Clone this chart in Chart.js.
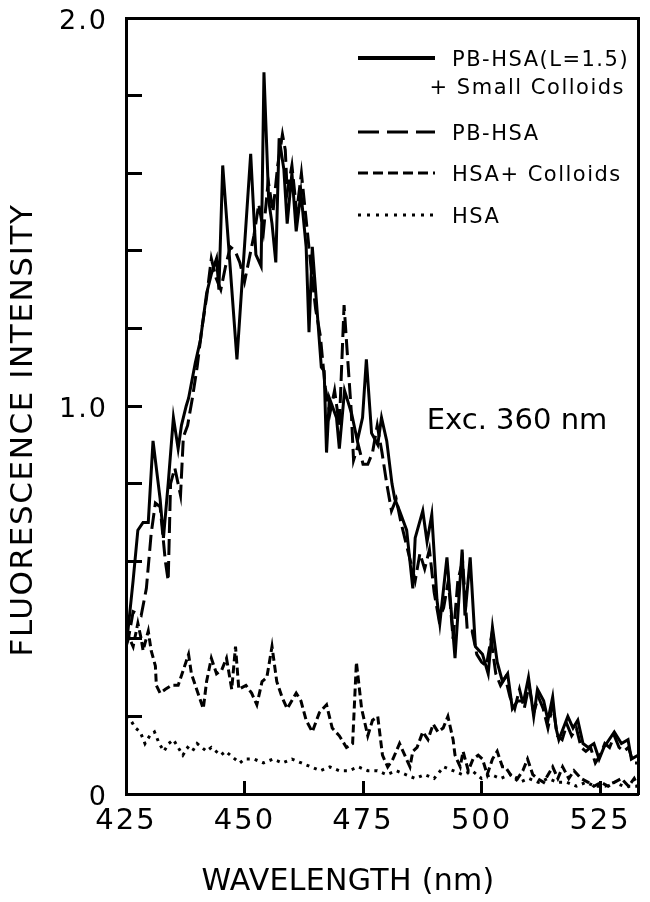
<!DOCTYPE html>
<html><head><meta charset="utf-8">
<script src="https://cdn.jsdelivr.net/npm/chart.js@4.4.1/dist/chart.umd.min.js"></script>
<style>html,body{margin:0;padding:0;background:#fff;}canvas{display:block;}</style>
</head><body>
<canvas id="c" width="650" height="902"></canvas>
<script>
// ---------- data ----------
const wlSolid = [425.0,425.4,426.5,427.5,428.6,429.7,430.7,432.2,432.9,433.9,435.0,436.0,436.7,437.7,438.2,439.6,440.7,442.0,443.0,444.1,444.6,445.4,448.4,451.3,452.4,453.5,454.1,455.1,455.8,456.6,457.3,458.3,459.0,460.0,460.9,461.9,463.0,463.6,464.3,465.1,466.2,466.8,467.3,467.9,469.4,470.0,471.1,472.6,473.8,474.9,475.7,476.8,478.1,478.9,480.0,481.1,481.7,482.7,484.2,485.5,486.0,487.6,488.5,489.5,490.6,491.2,492.7,494.4,495.9,496.5,497.6,498.7,500.2,501.4,502.3,503.3,504.4,505.5,506.5,507.6,508.9,509.9,511.0,511.8,513.1,514.0,515.0,515.7,516.3,518.2,519.3,520.3,521.4,522.5,523.7,524.8,525.8,528.0,529.5,530.9,531.6,533.0];
const valSolid = [0.40,0.42,0.55,0.68,0.70,0.70,0.91,0.76,0.66,0.80,0.97,0.89,0.95,1.00,1.02,1.11,1.17,1.29,1.34,1.38,1.30,1.62,1.12,1.65,1.39,1.36,1.86,1.53,1.47,1.37,1.69,1.61,1.47,1.60,1.45,1.55,1.41,1.19,1.41,1.28,1.10,1.09,0.88,1.02,0.97,0.89,1.04,0.98,0.91,0.97,1.12,0.93,0.90,0.97,0.91,0.80,0.76,0.73,0.68,0.53,0.66,0.73,0.65,0.72,0.50,0.44,0.61,0.35,0.63,0.46,0.61,0.38,0.36,0.31,0.43,0.34,0.29,0.31,0.22,0.24,0.24,0.30,0.20,0.27,0.24,0.19,0.25,0.17,0.14,0.20,0.17,0.19,0.13,0.12,0.13,0.09,0.12,0.16,0.13,0.14,0.09,0.10];

const wlPBHSA = [425,425.5,426.5,428.2,429.3,430.3,431.2,432.2,433.3,433.9,434.4,435.3,436.5,437.1,438,439,440,441,442,443,444,445,446,447,448,449,450,451,452,453,454,455,456,457,458,458.6,459,460,461,462,463,464,465,466,467,468,469,470,471,471.6,472.5,473,474,475,476,477,478,479,480,481,482,483,484,485,486,487,488,489,490,491,492,493,494,495,496,497,498,499,500,501,502,503,504,505,506,507,508,509,510,511,512,513,514,515,516,517,518,519,520,521,522,523,524,525,526,527,528,529,530,531,532,533];
const valPBHSA = [0.38,0.40,0.47,0.46,0.53,0.67,0.75,0.74,0.60,0.55,0.80,0.84,0.77,0.92,0.95,1.02,1.10,1.20,1.28,1.38,1.33,1.30,1.36,1.41,1.40,1.37,1.32,1.38,1.44,1.52,1.45,1.58,1.50,1.62,1.70,1.66,1.55,1.62,1.50,1.60,1.48,1.36,1.25,1.18,1.05,0.98,1.04,0.95,1.26,1.15,0.99,0.86,0.90,0.85,0.85,0.88,0.95,0.88,0.80,0.73,0.76,0.70,0.65,0.60,0.55,0.62,0.58,0.63,0.52,0.45,0.48,0.55,0.40,0.55,0.60,0.42,0.42,0.36,0.34,0.33,0.40,0.31,0.28,0.30,0.25,0.22,0.27,0.22,0.28,0.21,0.25,0.22,0.17,0.23,0.15,0.14,0.18,0.15,0.17,0.12,0.11,0.12,0.08,0.10,0.13,0.12,0.15,0.12,0.11,0.12,0.08,0.08];

const wlHSAColl = [425.0,425.4,426.5,427.5,428.2,428.6,429.7,430.3,431.2,431.4,432.2,433.3,434.6,436.0,437.1,438.2,438.8,439.9,441.3,442.0,443.0,444.1,445.2,446.2,447.3,448.1,448.8,450.3,451.5,452.6,453.7,454.7,455.8,456.8,457.9,459.0,460.9,461.9,463.0,464.3,465.8,467.3,468.5,470.0,471.5,472.8,473.6,474.7,476.0,477.0,478.1,479.1,480.2,481.3,482.7,483.8,484.9,485.5,486.4,487.6,488.7,489.8,490.8,491.9,492.9,494.0,494.4,495.5,496.1,497.2,498.2,499.3,500.2,501.2,502.3,503.3,504.4,505.0,506.1,507.6,508.7,509.7,510.8,511.8,513.1,515.0,516.1,517.1,518.4,519.5,521.0,522.5,523.7,525.2,526.7,528.0,529.5,531.0,532.2,533.0];
const valHSAColl = [0.42,0.41,0.38,0.44,0.40,0.37,0.42,0.37,0.33,0.28,0.26,0.27,0.28,0.28,0.32,0.36,0.31,0.27,0.22,0.29,0.35,0.31,0.32,0.35,0.27,0.38,0.27,0.28,0.26,0.23,0.29,0.30,0.38,0.29,0.25,0.22,0.26,0.24,0.19,0.16,0.21,0.23,0.17,0.15,0.12,0.13,0.34,0.22,0.15,0.19,0.20,0.10,0.07,0.09,0.13,0.10,0.07,0.11,0.12,0.16,0.14,0.18,0.16,0.17,0.20,0.14,0.10,0.07,0.11,0.06,0.09,0.10,0.09,0.05,0.09,0.11,0.07,0.07,0.05,0.04,0.06,0.09,0.05,0.04,0.03,0.07,0.04,0.07,0.04,0.06,0.04,0.03,0.02,0.03,0.02,0.03,0.04,0.02,0.04,0.02];

const wlHSA = [425,426,427,428,429,430,431,432,433,434,435,436,437,438,439,440,441,442,443,444,445,446,447,448,449,450,452,454,456,458,460,462,464,466,468,470,472,474,476,478,480,482,484,486,488,490,492,494,496,498,500,502,504,506,508,510,512,514,516,518,520,522,524,526,528,530,532,533];
const valHSA = [0.20,0.19,0.17,0.16,0.13,0.15,0.16,0.13,0.11,0.13,0.14,0.12,0.10,0.12,0.11,0.13,0.12,0.11,0.12,0.11,0.10,0.11,0.10,0.09,0.08,0.09,0.09,0.08,0.09,0.08,0.09,0.08,0.07,0.06,0.07,0.06,0.06,0.07,0.06,0.06,0.05,0.06,0.05,0.04,0.05,0.04,0.07,0.06,0.05,0.06,0.04,0.05,0.04,0.05,0.03,0.04,0.03,0.04,0.03,0.03,0.02,0.03,0.02,0.02,0.03,0.02,0.02,0.02];

const seriesLabels = ['PB-HSA(L=1.5) + Small Colloids', 'PB-HSA', 'HSA+ Colloids', 'HSA'];
const legendLines = [['PB-HSA(L=1.5)', '+ Small Colloids'], ['PB-HSA'], ['HSA+ Colloids'], ['HSA']];
const xTickValues = [425, 450, 475, 500, 525];
const yTickValues = [0, 0.2, 0.4, 0.6, 0.8, 1.0, 1.2, 1.4, 1.6, 1.8, 2.0];
const yTickLabels = ['0', '1.0', '2.0'];
const yLabelledValues = [0, 1, 2];
const xTitle = 'WAVELENGTH (nm)';
const yTitle = 'FLUORESCENCE INTENSITY';
const noteText = 'Exc. 360 nm';

// ---------- rendering ----------
const FONT = "'DejaVu Sans', sans-serif";
const pts = (xs, ys) => xs.map((x, i) => ({x: x, y: ys[i]}));
const noPad = s => { s.paddingTop = 0; s.paddingBottom = 0; s.paddingLeft = 0; s.paddingRight = 0; };

const textPlugin = {
  id: 'textPlugin',
  beforeDraw(chart) { chart.ctx.letterSpacing = '2px'; },
  afterDraw(chart) {
    const ctx = chart.ctx, a = chart.chartArea;
    ctx.save();
    ctx.fillStyle = '#000';
    ctx.strokeStyle = '#000';
    ctx.textAlign = 'center';
    ctx.textBaseline = 'middle';
    ctx.letterSpacing = '0.3px';
    ctx.font = '30px ' + FONT;
    ctx.fillText(xTitle, 348, 882);
    ctx.save();
    ctx.translate(24, 430);
    ctx.rotate(-Math.PI / 2);
    ctx.letterSpacing = '1.6px';
    ctx.font = '31px ' + FONT;
    ctx.fillText(yTitle, 0, 0);
    ctx.restore();
    ctx.letterSpacing = '0px';
    ctx.font = '29px ' + FONT;
    ctx.fillText(noteText, a.right - 121, 421);
    const rows = [a.top + 40, a.top + 114, a.top + 155, a.top + 197];
    const sx1 = a.right - 280, sx2 = a.right - 203, tx = a.right - 186;
    ctx.font = '21px ' + FONT;
    ctx.letterSpacing = '1.5px';
    chart.data.datasets.forEach((ds, i) => {
      const y = rows[i];
      ctx.save();
      ctx.lineWidth = i === 0 ? 4 : 3;
      ctx.setLineDash(ds.legendDash || []);
      ctx.lineCap = 'butt';
      ctx.beginPath();
      ctx.moveTo(sx1, y);
      ctx.lineTo(sx2, y);
      ctx.stroke();
      ctx.restore();
      const lines = legendLines[i];
      ctx.textAlign = 'left';
      ctx.fillText(lines[0], tx, y + 3);
      if (lines.length > 1) {
        ctx.textAlign = 'right';
        ctx.fillText(lines[1], a.right - 13, y + 31);
      }
    });
    ctx.restore();
  }
};

new Chart(document.getElementById('c'), {
  type: 'line',
  data: {
    datasets: [
      { label: seriesLabels[0], data: pts(wlSolid, valSolid), borderColor: '#000', borderWidth: 3, borderDash: [], legendDash: [] },
      { label: seriesLabels[1], data: pts(wlPBHSA, valPBHSA), borderColor: '#000', borderWidth: 3, borderDash: [16, 6], legendDash: [21, 8] },
      { label: seriesLabels[2], data: pts(wlHSAColl, valHSAColl), borderColor: '#000', borderWidth: 3, borderDash: [8, 4], legendDash: [10, 5] },
      { label: seriesLabels[3], data: pts(wlHSA, valHSA), borderColor: '#000', borderWidth: 3, borderDash: [3, 5], legendDash: [3, 6] }
    ]
  },
  options: {
    responsive: false,
    devicePixelRatio: 1,
    animation: false,
    events: [],
    layout: { padding: 0 },
    elements: { point: { radius: 0 }, line: { tension: 0, fill: false, borderCapStyle: 'butt' } },
    plugins: { legend: { display: false }, tooltip: { enabled: false }, title: { display: false } },
    scales: {
      x: {
        type: 'linear', position: 'bottom', min: 425, max: 533,
        afterFit(s) { s.height = 108; noPad(s); },
        afterBuildTicks(s) { s.ticks = xTickValues.map(v => ({value: v})); },
        ticks: { color: '#000', font: { family: FONT, size: 29 }, padding: 23, maxRotation: 0, autoSkip: false, callback: v => String(v) },
        grid: { display: true, drawOnChartArea: false, drawTicks: true, tickLength: -13, tickWidth: 3, tickColor: '#000' },
        border: { display: true, color: '#000', width: 3 }
      },
      y: {
        type: 'linear', position: 'left', min: 0, max: 2,
        afterFit(s) { s.width = 126; noPad(s); },
        afterBuildTicks(s) { s.ticks = yTickValues.map(v => ({value: v})); },
        ticks: {
          color: '#000', font: { family: FONT, size: 27 }, padding: 34, labelOffset: 4, autoSkip: false,
          callback(v) {
            const k = yLabelledValues.findIndex(t => Math.abs(t - v) < 1e-6);
            return k >= 0 ? yTickLabels[k] : '';
          }
        },
        grid: { display: true, drawOnChartArea: false, drawTicks: true, tickLength: -16, tickWidth: 3, tickColor: '#000' },
        border: { display: true, color: '#000', width: 3 }
      },
      xTop: {
        type: 'linear', position: 'top', min: 425, max: 533,
        afterFit(s) { s.height = 18; noPad(s); },
        ticks: { display: false },
        grid: { display: true, drawOnChartArea: false, drawTicks: false },
        border: { display: true, color: '#000', width: 3 }
      },
      yRight: {
        type: 'linear', position: 'right', min: 0, max: 2,
        afterFit(s) { s.width = 12; noPad(s); },
        ticks: { display: false },
        grid: { display: true, drawOnChartArea: false, drawTicks: false },
        border: { display: true, color: '#000', width: 3 }
      }
    }
  },
  plugins: [textPlugin]
});
</script>
</body></html>
